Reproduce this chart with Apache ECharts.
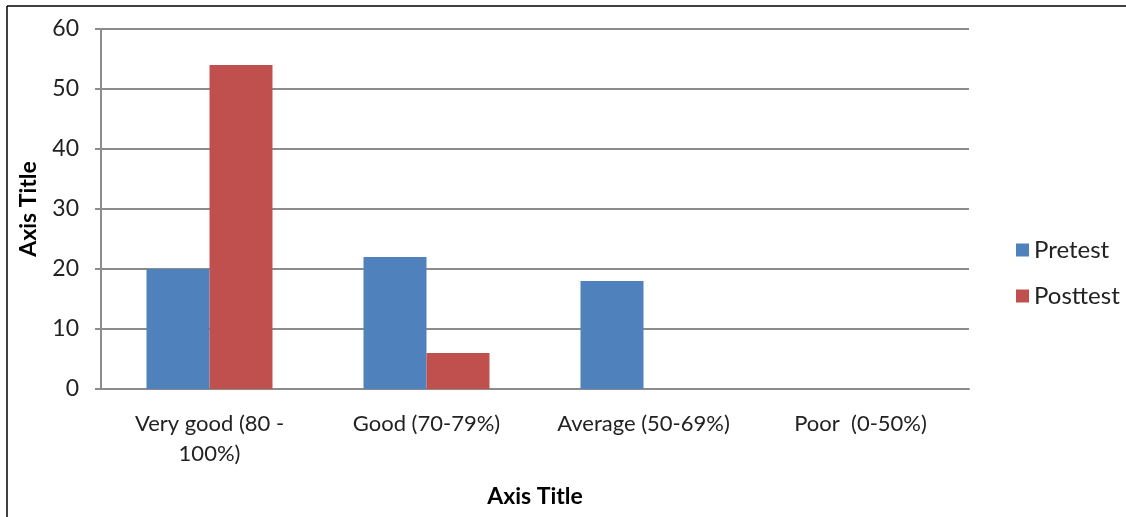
<!DOCTYPE html>
<html>
<head>
<meta charset="utf-8">
<script src="https://cdn.jsdelivr.net/npm/echarts@6/dist/echarts.min.js"></script>
<style>
  html, body { margin: 0; padding: 0; background: #fff; }
  #bar { width: 1126px; height: 517px; }
</style>
</head>
<body>
<div id="bar"></div>
<script>
// 数据
var categories = ['Very good (80 -\n100%)', 'Good (70-79%)', 'Average (50-69%)', 'Poor  (0-50%)'];
var pretest = [20, 22, 18, 0];
var posttest = [54, 6, 0, 0];

var myChart = echarts.init(document.getElementById('bar'));

var font = 'Lato, "Open Sans", sans-serif';

var option = {
    backgroundColor: '#fff',
    textStyle: { fontFamily: font },
    // 外框（上边和左边）
    graphic: [
        { type: 'line', shape: { x1: 7, y1: 6, x2: 1126, y2: 6 }, style: { stroke: '#000', lineWidth: 1.5 } },
        { type: 'line', shape: { x1: 7, y1: 6, x2: 7, y2: 517 }, style: { stroke: '#000', lineWidth: 1.5 } }
    ],
    grid: { left: 101, right: 157, top: 29, bottom: 128 },
    legend: {
        orient: 'vertical',
        left: 1011,
        top: 233,
        itemWidth: 13,
        itemHeight: 13,
        itemGap: 22,
        icon: 'rect',
        textStyle: { fontSize: 24, color: '#222', fontFamily: font },
        data: ['Pretest', 'Posttest']
    },
    xAxis: {
        type: 'category',
        data: categories,
        name: 'Axis Title',
        nameLocation: 'middle',
        nameGap: 96,
        nameTextStyle: { fontSize: 23, fontWeight: 'bold', color: '#000' },
        axisLine: { lineStyle: { color: '#8c8c8c', width: 2 } },
        axisTick: { show: false },
        axisLabel: { fontSize: 22, color: '#222', margin: 20, lineHeight: 30, interval: 0 }
    },
    yAxis: {
        type: 'value',
        min: 0,
        max: 60,
        interval: 10,
        name: 'Axis Title',
        nameLocation: 'middle',
        nameGap: 61,
        nameTextStyle: { fontSize: 23, fontWeight: 'bold', color: '#000' },
        axisLine: { show: true, lineStyle: { color: '#8c8c8c', width: 2 } },
        axisTick: { show: true, length: 6, inside: false, lineStyle: { color: '#8c8c8c', width: 2 } },
        axisLabel: { fontSize: 23, color: '#222', margin: 22 },
        splitLine: { lineStyle: { color: '#8c8c8c', width: 2 } }
    },
    series: [
        {
            name: 'Pretest',
            type: 'bar',
            data: pretest,
            barWidth: 63,
            barGap: '0%',
            itemStyle: { color: '#4F81BD' }
        },
        {
            name: 'Posttest',
            type: 'bar',
            data: posttest,
            barWidth: 63,
            barGap: '0%',
            itemStyle: { color: '#C0504D' }
        }
    ]
};

myChart.setOption(option);
</script>
</body>
</html>
